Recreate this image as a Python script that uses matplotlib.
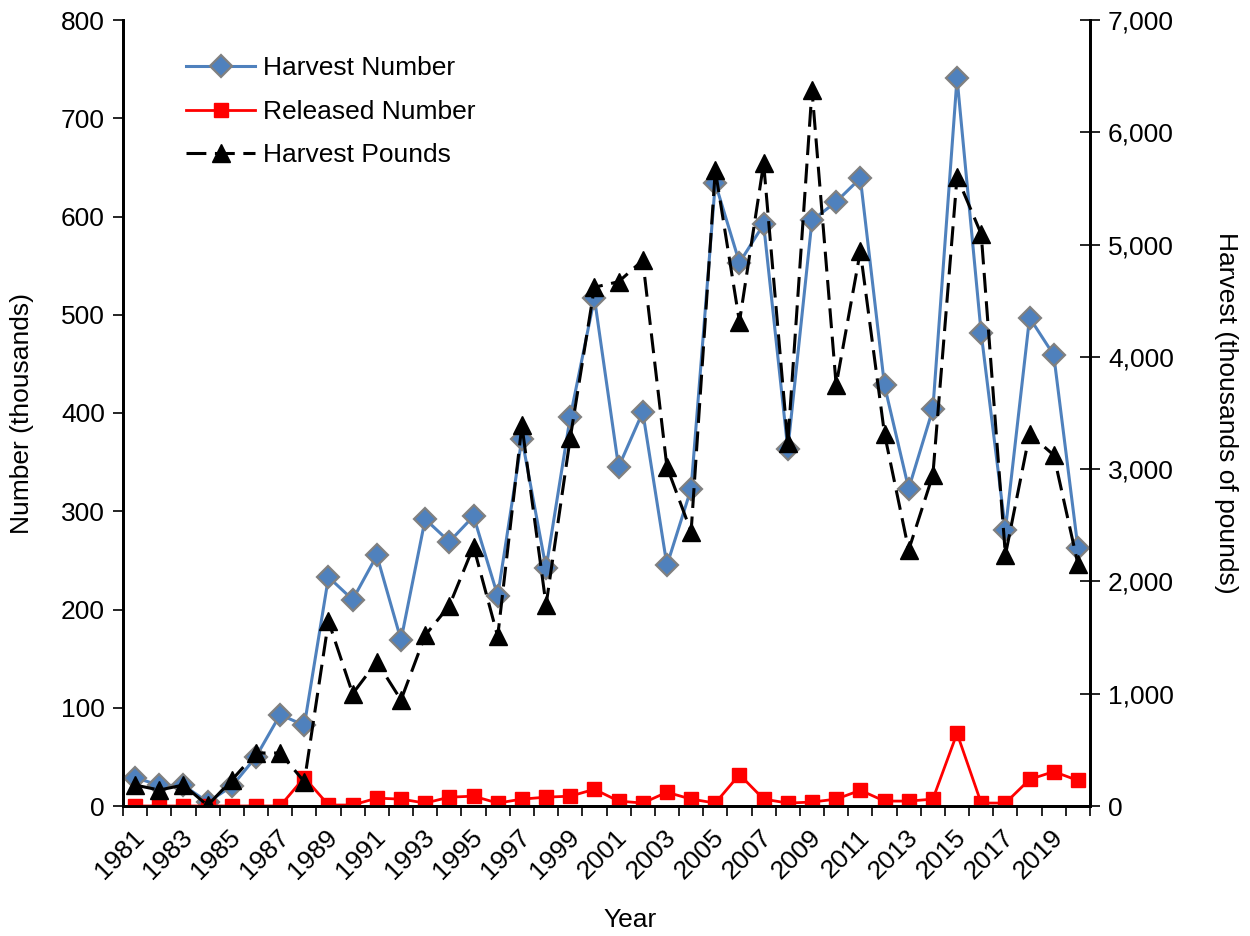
import matplotlib
matplotlib.use("Agg")
import matplotlib.pyplot as plt
import matplotlib.transforms as mtransforms
from matplotlib.ticker import FuncFormatter, MultipleLocator, FixedLocator

plt.rcParams['font.family'] = ['Liberation Sans', 'DejaVu Sans']

years = [1981, 1982, 1983, 1984, 1985, 1986, 1987, 1988, 1989, 1990,
         1991, 1992, 1993, 1994, 1995, 1996, 1997, 1998, 1999, 2000,
         2001, 2002, 2003, 2004, 2005, 2006, 2007, 2008, 2009, 2010,
         2011, 2012, 2013, 2014, 2015, 2016, 2017, 2018, 2019, 2020]

harvest_number = [29, 21, 21, 4, 20, 50, 93, 82, 233, 210,
                  255, 169, 292, 269, 295, 214, 374, 242, 396, 517,
                  345, 401, 245, 323, 634, 553, 592, 363, 596, 615,
                  639, 428, 323, 404, 741, 481, 281, 497, 459, 263]

released_number = [0, 0, 0, 0, 0, 0, 0, 29, 1, 1,
                   8, 7, 3, 9, 10, 3, 7, 9, 10, 17,
                   5, 3, 14, 7, 3, 32, 7, 3, 4, 7,
                   16, 5, 5, 7, 74, 3, 3, 27, 35, 26]

harvest_pounds = [187, 142, 187, 5, 231, 472, 472, 216, 1645, 1000,
                  1285, 944, 1520, 1785, 2310, 1510, 3390, 1790, 3277, 4620,
                  4669, 4860, 3020, 2443, 5663, 4312, 5723, 3232, 6376, 3749,
                  4940, 3313, 2280, 2947, 5603, 5094, 2235, 3313, 3125, 2155]

tick_years = [1981, 1983, 1985, 1987, 1989, 1991, 1993, 1995, 1997, 1999,
              2001, 2003, 2005, 2007, 2009, 2011, 2013, 2015, 2017, 2019]

FS = 19
W, H = 1250, 936
fig = plt.figure(figsize=(W / 100, H / 100), dpi=100)
left, right, top, bottom = 123, 1090, 20, 806
ax = fig.add_axes([left / W, 1 - bottom / H, (right - left) / W, (bottom - top) / H])
ax2 = ax.twinx()

blue = '#4F81BD'
ax.plot(years, harvest_number, color=blue, lw=2.2, marker='D', ms=11,
        markerfacecolor=blue, markeredgecolor='#808080', markeredgewidth=1.6,
        label='Harvest Number', zorder=3)
ax.plot(years, released_number, color='#FF0000', lw=2.0, marker='s', ms=10,
        markerfacecolor='#FF0000', markeredgecolor='#FF0000', markeredgewidth=1,
        label='Released Number', zorder=4)
ax2.plot(years, harvest_pounds, color='black', lw=2.2, dashes=(6.5, 2.8),
         marker='^', ms=13, markerfacecolor='black', markeredgecolor='black',
         label='Harvest Pounds', zorder=5)

ax.set_xlim(1980.5, 2020.5)
ax.set_ylim(0, 800)
ax2.set_ylim(0, 7000)

ax.yaxis.set_major_locator(MultipleLocator(100))
ax2.yaxis.set_major_locator(MultipleLocator(1000))
ax2.yaxis.set_major_formatter(FuncFormatter(lambda v, p: f'{int(v):,}'))

ax.xaxis.set_major_locator(FixedLocator(tick_years))
ax.xaxis.set_minor_locator(FixedLocator([y + 0.5 for y in [1980] + years]))
ax.set_xticklabels([str(y) for y in tick_years], rotation=45, ha='right',
                   rotation_mode='anchor', va='center')
ax.tick_params(axis='x', which='major', length=0, labelsize=FS, pad=20)
ax.tick_params(axis='x', which='minor', length=7, width=1.2, direction='out')
ax.tick_params(axis='y', which='major', length=7, width=1.2, direction='out',
               labelsize=FS, pad=6)
ax2.tick_params(axis='y', which='major', length=14, width=1.2, direction='inout',
                labelsize=FS, pad=6)

offset = mtransforms.ScaledTranslation(5 / 100, 0, fig.dpi_scale_trans)
for lbl in ax.get_xticklabels():
    lbl.set_transform(lbl.get_transform() + offset)

for a in (ax, ax2):
    a.spines['top'].set_visible(False)
    for s in ('left', 'right', 'bottom'):
        a.spines[s].set_linewidth(2)
        a.spines[s].set_color('black')

ax.set_ylabel('Number (thousands)', fontsize=FS, va='center')
ax.yaxis.set_label_coords((22 - left) / (right - left), 0.5)
ax2.set_ylabel('Harvest (thousands of pounds)', fontsize=FS, rotation=-90,
               va='center')
ax2.yaxis.set_label_coords((1226 - left) / (right - left), 0.5)
fig.text(630 / W, 1 - 920 / H, 'Year', fontsize=FS, ha='center', va='center')

h1, l1 = ax.get_legend_handles_labels()
h2, l2 = ax2.get_legend_handles_labels()
leg = ax2.legend(h1 + h2, l1 + l2, loc='upper left',
                 bbox_to_anchor=(181 / W, 1 - 51 / H), bbox_transform=fig.transFigure,
                 frameon=False, fontsize=FS, handlelength=2.6, handletextpad=0.3,
                 labelspacing=0.74, borderaxespad=0, borderpad=0.2)

fig.savefig('out.png', dpi=100)
